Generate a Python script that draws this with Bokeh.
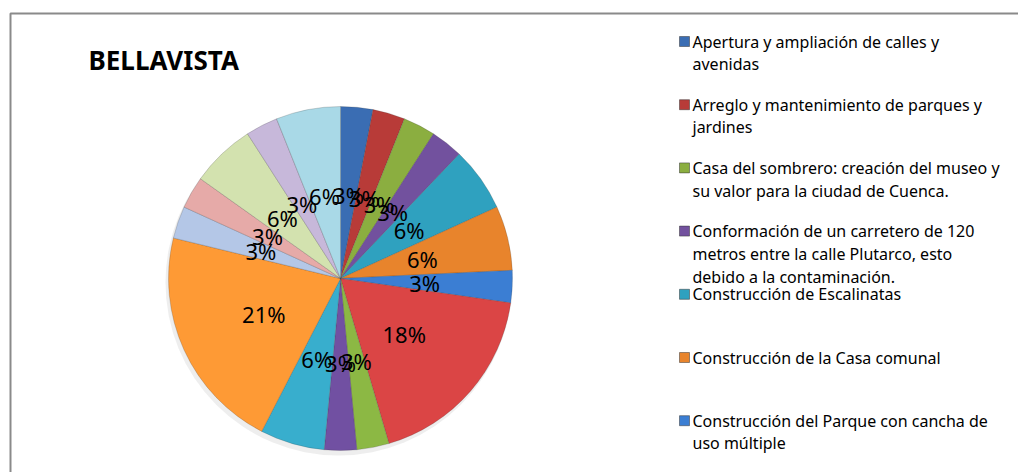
import math
import numpy as np
from bokeh.plotting import figure
from bokeh.models import Range1d, ColumnDataSource
from bokeh.core.properties import value
from bokeh.embed import file_html
from bokeh.resources import INLINE

# ---------------- data ----------------
title = "BELLAVISTA"
# responses per slice, clockwise from 12 o'clock (17 slices, total 33)
counts = [1, 1, 1, 1, 2, 2, 1, 6, 1, 1, 2, 7, 1, 1, 2, 1, 2]
colors = ["#3A6DB3", "#B83B38", "#8BAE40", "#72519E", "#2FA1BF", "#E8842C",
          "#3B7ED3", "#DB4545", "#8CB844", "#7150A2", "#38AECD", "#FE9A35",
          "#B4C7E7", "#E6AAA8", "#D3E2AF", "#C7B8DA", "#A9D9E7"]
legend_labels = [
    "Apertura y ampliación de calles y\navenidas",
    "Arreglo y mantenimiento de parques y\njardines",
    "Casa del sombrero: creación del museo y\nsu valor para la ciudad de Cuenca.",
    "Conformación de un carretero de 120\nmetros entre la calle Plutarco, esto\ndebido a la contaminación.",
    "Construcción de Escalinatas",
    "Construcción de la Casa comunal",
    "Construcción del Parque con cancha de\nuso múltiple",
]

# ---------------- layout ----------------
W, H = 1018, 472
def X(rx):
    return rx
def Y(ry):
    return H - ry

p = figure(width=W, height=H, x_range=Range1d(0, W), y_range=Range1d(0, H),
           output_backend="svg", toolbar_location=None, min_border=0)
p.axis.visible = False
p.grid.visible = False
p.outline_line_color = None
p.background_fill_color = "white"

# chart border (continues beyond the visible area)
p.quad(left=[X(10)], right=[W + 30], top=[Y(13)], bottom=[-30],
       fill_color=None, line_color="#8a8a8a", line_width=2)

# title
p.text(x=[X(88)], y=[Y(59)], text=[title], text_font=value("Noto Sans"),
       text_font_style="bold", text_font_size="26px", text_baseline="middle",
       text_align="left", text_color="black")

# pie
cx, cy, R = X(340), Y(278), 172
c = np.array(counts, dtype=float)
total = c.sum()
frac = c / total
cum = np.cumsum(frac)
prev = cum - frac
start = math.pi / 2 - 2 * math.pi * prev
end = math.pi / 2 - 2 * math.pi * cum
mid = (start + end) / 2

# soft shadow
p.circle(x=[cx - 2], y=[cy - 4], radius=R + 1, fill_color="#a0a0a0",
         fill_alpha=0.18, line_color=None)

src = ColumnDataSource(dict(s=end, e=start, color=colors))
p.wedge(x=cx, y=cy, radius=R, start_angle="s", end_angle="e",
        direction="anticlock", fill_color="color", line_color="#333333",
        line_alpha=0.25, line_width=0.8, source=src)

lab = ColumnDataSource(dict(
    x=cx + 0.49 * R * np.cos(mid),
    y=cy + 0.49 * R * np.sin(mid),
    t=[f"{int(round(100 * f))}%" for f in frac],
))
p.text(x="x", y="y", text="t", source=lab, text_font=value("Noto Sans"),
       text_font_size="22px", text_align="center", text_baseline="middle",
       text_color="black")

# legend (only the visible part of the original legend)
item_y0, item_step, line_step = 41, 63.2, 22.7
for i, lbl in enumerate(legend_labels):
    yc = item_y0 + i * item_step
    p.rect(x=[X(684)], y=[Y(yc)], width=10, height=10,
           fill_color=colors[i], line_color="#333333", line_alpha=0.5, line_width=1)
    for j, line in enumerate(lbl.split("\n")):
        p.text(x=[X(692)], y=[Y(yc + j * line_step)], text=[line],
               text_font=value("Noto Sans"), text_font_size="16px",
               text_baseline="middle", text_align="left", text_color="black")

open("out.html", "w").write(file_html(p, INLINE))
